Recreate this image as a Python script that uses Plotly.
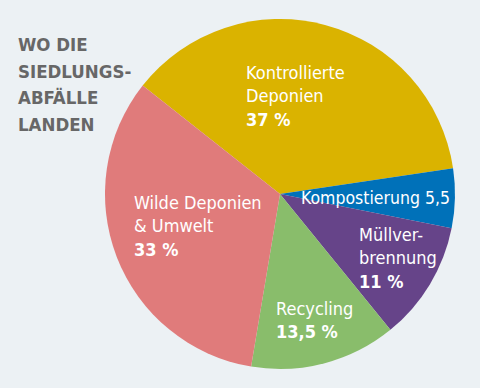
import plotly.graph_objects as go

labels = ["Kontrollierte Deponien", "Kompostierung", "Müllverbrennung", "Recycling", "Wilde Deponien & Umwelt"]
values = [37, 5.5, 11, 13.5, 33]
value_texts = ["37 %", "5,5", "11 %", "13,5 %", "33 %"]
label_lines = [["Kontrollierte", "Deponien"], ["Kompostierung"], ["Müllver-", "brennung"], ["Recycling"], ["Wilde Deponien", "& Umwelt"]]
colors = ["#dab300", "#0071b9", "#664489", "#89bd6b", "#e07b7b"]
title_lines = ["WO DIE", "SIEDLUNGS-", "ABFÄLLE", "LANDEN"]

BG = "#ecf1f4"
FONT = "DejaVu Sans Condensed, DejaVu Sans, sans-serif"

fig = go.Figure(go.Pie(
    labels=labels, values=values, sort=False, direction="clockwise",
    rotation=-51.7, marker=dict(colors=colors, line=dict(width=0)),
    textinfo="none", hoverinfo="label+value", showlegend=False,
    domain=dict(x=[105/480, 455/480], y=[18.5/388, 369.5/388]),
))

# label anchor positions (paper px), left-aligned top
pos = [(244, 60), (299, 186), (357, 222), (274, 296), (132, 190)]
sizes = [18, 17.5, 18, 18, 18]
for i, (x, y) in enumerate(pos):
    if i == 1:
        txt = " ".join(label_lines[i]) + " " + value_texts[i]
    else:
        txt = "<br>".join(label_lines[i]) + "<br><b>" + value_texts[i] + "</b>"
    fig.add_annotation(x=x/480, y=1 - y/388, xref="paper", yref="paper",
                       xanchor="left", yanchor="top", align="left", showarrow=False,
                       text=txt, font=dict(family=FONT, size=sizes[i], color="white"))

for j, line in enumerate(title_lines):
    fig.add_annotation(x=16/480, y=1 - (32 + 26.7*j)/388, xref="paper", yref="paper",
                       xanchor="left", yanchor="top", align="left", showarrow=False,
                       text="<b>" + line + "</b>",
                       font=dict(family=FONT, size=18.5, color="#676767"))

fig.update_layout(width=480, height=388, margin=dict(l=0, r=0, t=0, b=0),
                  paper_bgcolor=BG, plot_bgcolor=BG)
fig.write_html("out.html", config={"displayModeBar": False},
               post_script="document.body.style.margin='0';document.body.style.background='%s';" % BG)
